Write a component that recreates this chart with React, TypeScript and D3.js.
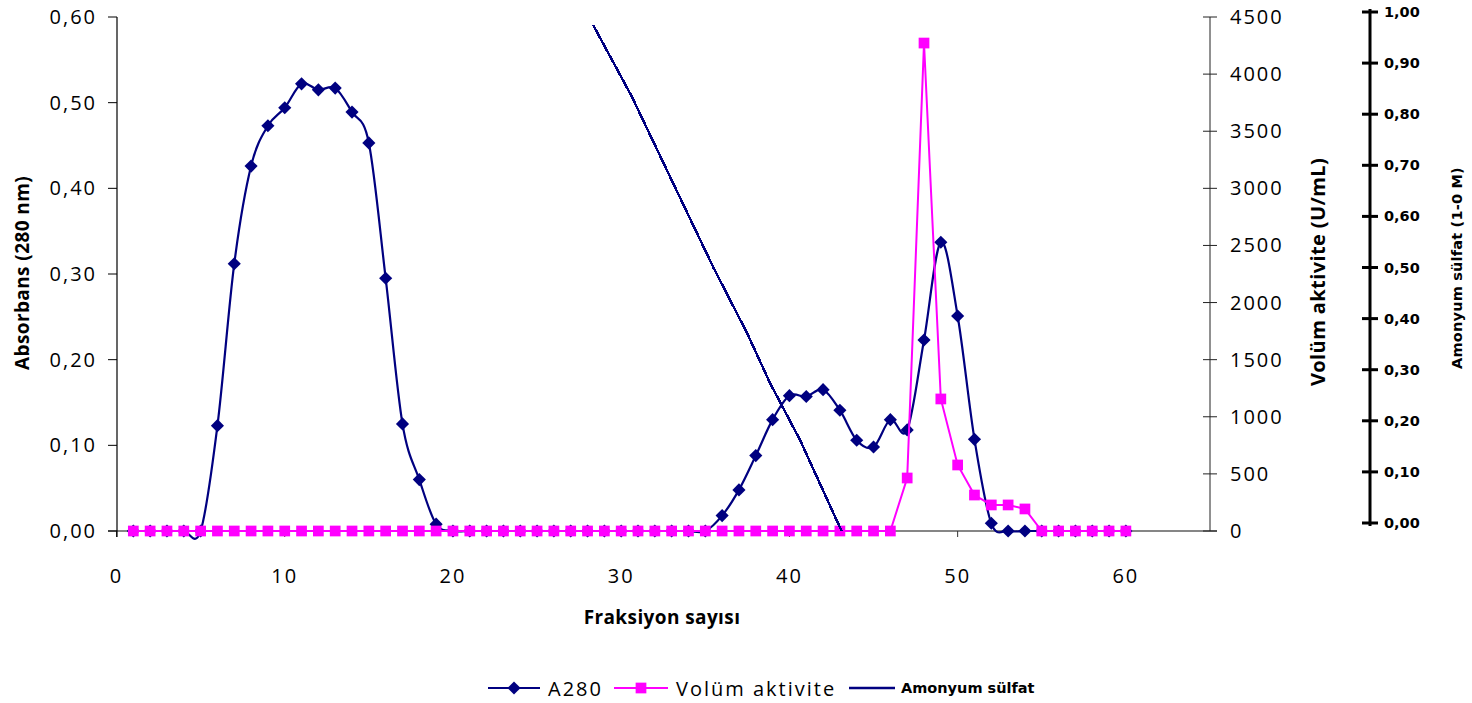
import React from 'react'
import * as d3 from 'd3'

// fraction numbers (categories)
const fractions = [
  1, 2, 3, 4, 5, 6, 7, 8, 9, 10, 11, 12, 13, 14, 15, 16, 17, 18, 19, 20,
  21, 22, 23, 24, 25, 26, 27, 28, 29, 30, 31, 32, 33, 34, 35, 36, 37, 38, 39, 40,
  41, 42, 43, 44, 45, 46, 47, 48, 49, 50, 51, 52, 53, 54, 55, 56, 57, 58, 59, 60,
]

const a280 = [
  0, 0, 0, 0, 0, 0.123, 0.312, 0.426, 0.473, 0.494,
  0.522, 0.515, 0.517, 0.489, 0.453, 0.295, 0.125, 0.06, 0.008, 0,
  0, 0, 0, 0, 0, 0, 0, 0, 0, 0,
  0, 0, 0, 0, 0, 0.018, 0.048, 0.088, 0.13, 0.158,
  0.157, 0.165, 0.141, 0.106, 0.098, 0.13, 0.118, 0.223, 0.337, 0.251,
  0.107, 0.009, 0, 0, 0, 0, 0, 0, 0, 0,
]

const volumAktivite = [
  0, 0, 0, 0, 0, 0, 0, 0, 0, 0,
  0, 0, 0, 0, 0, 0, 0, 0, 0, 0,
  0, 0, 0, 0, 0, 0, 0, 0, 0, 0,
  0, 0, 0, 0, 0, 0, 0, 0, 0, 0,
  0, 0, 0, 0, 0, 0, 464, 4272, 1156, 578,
  315, 228, 228, 193, 0, 0, 0, 0, 0, 0,
]

// amonyum sulfat gradient (1 -> 0 M)
const amonyumX = [28.33, 30.65, 33.2, 35.46, 37.48, 38.85, 40.63, 43.1]
const amonyumM = [0.979, 0.839, 0.665, 0.511, 0.383, 0.286, 0.176, 0]

const xTicks = [0, 10, 20, 30, 40, 50, 60]
const absTicks = [0, 0.1, 0.2, 0.3, 0.4, 0.5, 0.6]
const volTicks = [0, 500, 1000, 1500, 2000, 2500, 3000, 3500, 4000, 4500]
const amTicks = [0, 0.1, 0.2, 0.3, 0.4, 0.5, 0.6, 0.7, 0.8, 0.9, 1]

const NAVY = '#000080'
const PINK = '#FF00FF'
const FONT = '"Open Sans", "Liberation Sans", sans-serif'
const PIXFONT = '"DejaVu Sans", sans-serif'

const comma2 = (v: number) => v.toFixed(2).replace('.', ',')

export default function App() {
  const x = d3.scaleLinear().domain([0, 65]).range([116.5, 1210])
  const yAbs = d3.scaleLinear().domain([0, 0.6]).range([531, 17])
  const yVol = d3.scaleLinear().domain([0, 4500]).range([531, 17])
  const yAmAxis = d3.scaleLinear().domain([0, 1]).range([523, 12])
  const yAmLine = d3.scaleLinear().domain([0, 1]).range([531, 14])

  const absLine = d3
    .line<number>()
    .x((_, i) => x(fractions[i]))
    .y((d) => yAbs(d))
    .curve(d3.curveCardinal.tension(0))
  const volLine = d3
    .line<number>()
    .x((_, i) => x(fractions[i]))
    .y((d) => yVol(d))
  const amLine = d3
    .line<number>()
    .x((_, i) => x(amonyumX[i]))
    .y((d) => yAmLine(d))

  const diamond = d3.symbol(d3.symbolDiamond2, 110)()
  const square = d3.symbol(d3.symbolSquare, 115)()

  const y0 = yAbs(0)

  return (
    <svg
      width={1472}
      height={703}
      style={{ position: 'absolute', left: 0, top: 0, background: '#fff' }}
      fontFamily={FONT}
    >
      {/* x axis */}
      <line x1={108} x2={1217} y1={y0} y2={y0} stroke="#868686" strokeWidth={2} />
      {xTicks.map((t) => (
        <g key={'x' + t}>
          <line x1={x(t)} x2={x(t)} y1={y0} y2={y0 + 6} stroke="#333" strokeWidth={1} />
          <text x={x(t)} y={583} textAnchor="middle" fontSize={20} letterSpacing={2}>
            {t}
          </text>
        </g>
      ))}

      {/* left axis */}
      <line x1={117} x2={117} y1={17} y2={537} stroke="#000" strokeWidth={1.2} />
      {absTicks.map((t) => (
        <g key={'a' + t}>
          <line x1={108} x2={117} y1={yAbs(t)} y2={yAbs(t)} stroke="#000" />
          <text x={97} y={yAbs(t) + 7} textAnchor="end" fontSize={20} letterSpacing={2}>
            {comma2(t)}
          </text>
        </g>
      ))}
      <text
        transform={`translate(29,273) rotate(-90)`}
        textAnchor="middle"
        fontSize={19}
        fontWeight="bold"
        letterSpacing={0.4}
      >
        Absorbans (280 nm)
      </text>

      {/* volume axis */}
      <line x1={1210} x2={1210} y1={17} y2={531} stroke="#222" strokeWidth={1} />
      {volTicks.map((t) => (
        <g key={'v' + t}>
          <line x1={1203} x2={1217} y1={yVol(t)} y2={yVol(t)} stroke="#222" />
          <text x={1230} y={yVol(t) + 7} fontSize={20} letterSpacing={2}>
            {t}
          </text>
        </g>
      ))}
      <text
        transform={`translate(1325,272) rotate(-90)`}
        textAnchor="middle"
        fontSize={20}
        fontWeight="bold"
        letterSpacing={0.4}
      >
        Volüm aktivite (U/mL)
      </text>

      {/* amonyum sulfat axis */}
      <line x1={1370} x2={1370} y1={9} y2={526} stroke="#000" strokeWidth={3} />
      {amTicks.map((t) => (
        <g key={'m' + t}>
          <line x1={1362} x2={1378} y1={yAmAxis(t)} y2={yAmAxis(t)} stroke="#000" strokeWidth={3} />
          <text
            x={1384}
            y={yAmAxis(t) + 5}
            fontSize={14.5}
            fontWeight="bold"
            fontFamily={PIXFONT}
          >
            {comma2(t)}
          </text>
        </g>
      ))}
      <text
        transform={`translate(1462,268) rotate(-90)`}
        textAnchor="middle"
        fontSize={14.5}
        fontWeight="bold"
        fontFamily={PIXFONT}
        letterSpacing={0.2}
      >
        Amonyum sülfat  (1-0 M)
      </text>

      {/* x title */}
      <text x={662} y={624} textAnchor="middle" fontSize={19} fontWeight="bold" letterSpacing={0.4}>
        Fraksiyon sayısı
      </text>

      {/* A280 */}
      <path d={absLine(a280) || ''} fill="none" stroke={NAVY} strokeWidth={2.2} />
      {a280.map((d, i) => (
        <path key={'ad' + i} d={diamond || ''} transform={`translate(${x(fractions[i])},${yAbs(d)})`} fill={NAVY} />
      ))}

      {/* Volum aktivite */}
      <path d={volLine(volumAktivite) || ''} fill="none" stroke={PINK} strokeWidth={2} />
      {volumAktivite.map((d, i) => (
        <path key={'vs' + i} d={square || ''} transform={`translate(${x(fractions[i])},${yVol(d)})`} fill={PINK} />
      ))}

      {/* Amonyum sulfat */}
      <path d={amLine(amonyumM) || ''} fill="none" stroke={NAVY} strokeWidth={2.5} shapeRendering="crispEdges" />

      {/* legend */}
      <g>
        <line x1={488} x2={540} y1={688} y2={688} stroke={NAVY} strokeWidth={2} />
        <path d={diamond || ''} transform="translate(514,688)" fill={NAVY} />
        <text x={548} y={696} fontSize={20} letterSpacing={2}>
          A280
        </text>
        <line x1={614} x2={668} y1={688} y2={688} stroke={PINK} strokeWidth={2} />
        <path d={square || ''} transform="translate(641,688)" fill={PINK} />
        <text x={676} y={696} fontSize={20} letterSpacing={2}>
          Volüm aktivite
        </text>
        <line x1={849} x2={895} y1={688} y2={688} stroke={NAVY} strokeWidth={2.5} />
        <text x={901} y={693} fontSize={14.5} fontWeight="bold" fontFamily={PIXFONT}>
          Amonyum sülfat
        </text>
      </g>
    </svg>
  )
}
